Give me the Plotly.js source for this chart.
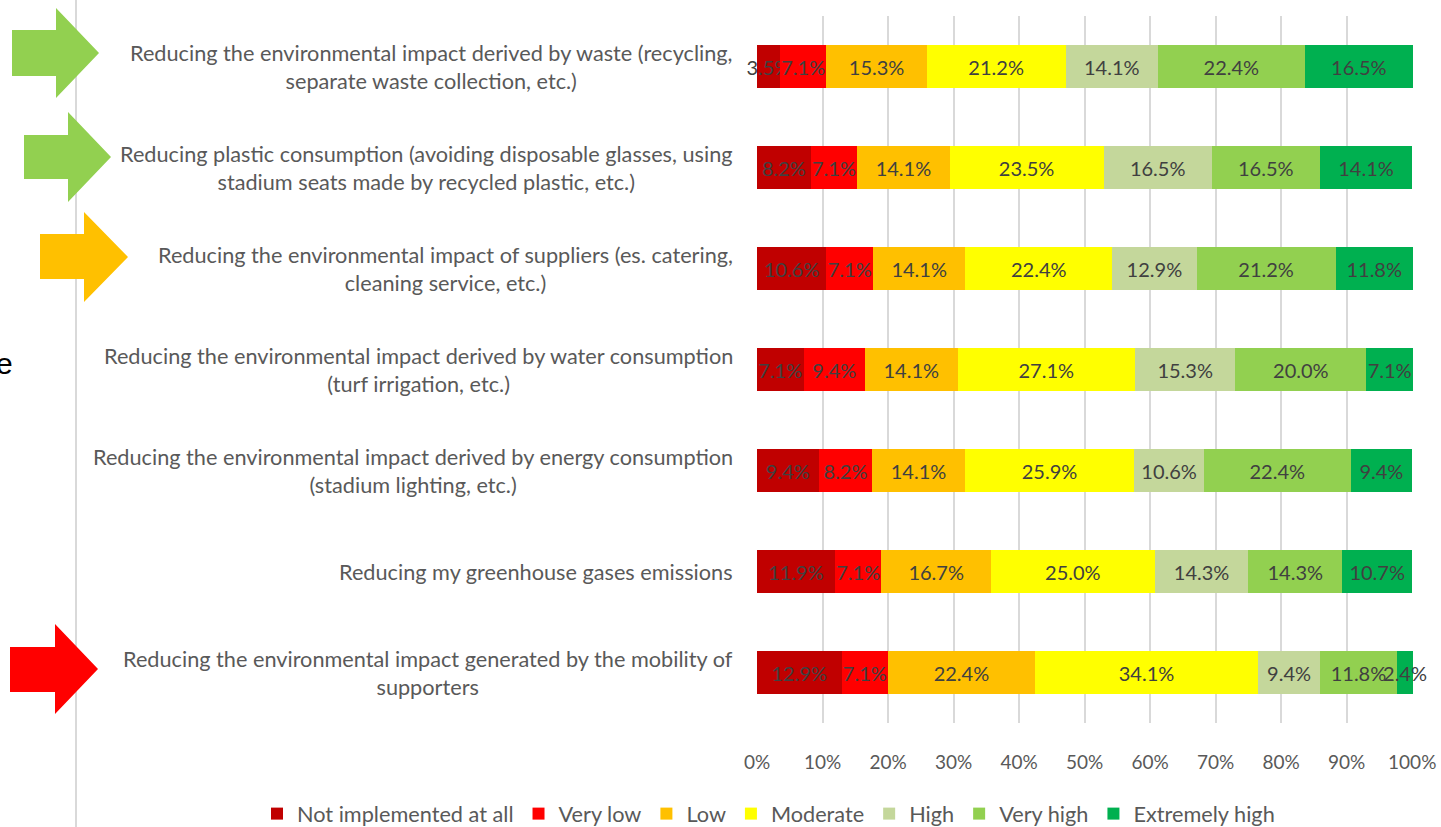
<!DOCTYPE html>
<html>
<head>
<meta charset="utf-8">
<script src="https://cdn.plot.ly/plotly-3.0.1.min.js"></script>
<style>
html,body{margin:0;padding:0;background:#fff;}
#chart{width:1441px;height:827px;}
</style>
</head>
<body>
<div id="chart"></div>
<script>
const categories = [
  "Reducing the environmental impact derived by waste (recycling, separate waste collection, etc.)",
  "Reducing plastic consumption (avoiding disposable glasses, using stadium seats made by recycled plastic, etc.)",
  "Reducing the environmental impact of suppliers (es. catering, cleaning service, etc.)",
  "Reducing the environmental impact derived by water consumption (turf irrigation, etc.)",
  "Reducing the environmental impact derived by energy consumption (stadium lighting, etc.)",
  "Reducing my greenhouse gases emissions",
  "Reducing the environmental impact generated by the mobility of supporters"
];
const categoryLabels = [
  "Reducing the environmental impact derived by waste (recycling,<br>separate waste collection, etc.)",
  "Reducing plastic consumption (avoiding disposable glasses, using<br>stadium seats made by recycled plastic, etc.)",
  "Reducing the environmental impact of suppliers (es. catering,<br>cleaning service, etc.)",
  "Reducing the environmental impact derived by water consumption<br>(turf irrigation, etc.)",
  "Reducing the environmental impact derived by energy consumption<br>(stadium lighting, etc.)",
  "Reducing my greenhouse gases emissions",
  "Reducing the environmental impact generated by the mobility of<br>supporters"
];
const seriesNames = ["Not implemented at all","Very low","Low","Moderate","High","Very high","Extremely high"];
const notImplemented = [3.5, 8.2, 10.6, 7.1, 9.4, 11.9, 12.9];
const veryLow       = [7.1, 7.1, 7.1, 9.4, 8.2, 7.1, 7.1];
const low           = [15.3, 14.1, 14.1, 14.1, 14.1, 16.7, 22.4];
const moderate      = [21.2, 23.5, 22.4, 27.1, 25.9, 25.0, 34.1];
const high          = [14.1, 16.5, 12.9, 15.3, 10.6, 14.3, 9.4];
const veryHigh      = [22.4, 16.5, 21.2, 20.0, 22.4, 14.3, 11.8];
const extremelyHigh = [16.5, 14.1, 11.8, 7.1, 9.4, 10.7, 2.4];
const xTickVals = [0,10,20,30,40,50,60,70,80,90,100];

const seriesValues = [notImplemented, veryLow, low, moderate, high, veryHigh, extremelyHigh];
const colors = ["#C00000","#FF0000","#FFC000","#FFFF00","#C4D79B","#92D050","#00B050"];

const FONT = "Lato, 'Open Sans', sans-serif";

// plot-area geometry (pixels)
const L = 757, R = 1413, T = 16, B = 723;
const fx = p => (p - L) / (R - L);
const fy = p => (B - p) / (B - T);

const traces = seriesValues.map((vals, i) => ({
  type: "bar",
  orientation: "h",
  name: seriesNames[i],
  y: categories,
  x: vals,
  marker: {color: colors[i], line: {width: 0}},
  text: vals.map(v => v.toFixed(1) + "%"),
  texttemplate: "%{text}",
  textposition: "inside",
  insidetextanchor: "middle",
  constraintext: "none",
  textangle: 0,
  cliponaxis: false,
  textfont: {family: FONT, size: 20, color: "#404040"},
  hoverinfo: "x+name"
}));

function arrow(x0, x1, x2, bodyTop, bodyBot, headTop, headBot, color) {
  const tipY = (headTop + headBot) / 2;
  const pts = [
    [x0, bodyTop],[x1, bodyTop],[x1, headTop],[x2, tipY],[x1, headBot],[x1, bodyBot],[x0, bodyBot]
  ];
  const path = "M " + pts.map(p => fx(p[0]) + "," + fy(p[1])).join(" L ") + " Z";
  return {type: "path", xref: "paper", yref: "paper", path: path,
          fillcolor: color, line: {width: 0}, layer: "above"};
}

const shapes = [
  {type: "line", xref: "paper", yref: "paper", x0: fx(76), x1: fx(76), y0: fy(830), y1: fy(-5),
   line: {color: "#D9D9D9", width: 2}},
  arrow(12, 56, 99, 30, 76, 8, 98, "#92D050"),
  arrow(24, 68, 111, 135, 179, 112, 202, "#92D050"),
  arrow(40, 84, 128, 234, 279, 212, 302, "#FFC000"),
  arrow(10, 55, 98, 647, 692, 624, 714, "#FF0000")
];

const annotations = categories.map((c, i) => ({
  xref: "paper", yref: "y", x: 0, y: c, xshift: -22,
  xanchor: "right", yanchor: "middle", align: "center",
  text: categoryLabels[i], showarrow: false,
  font: {family: FONT, size: 21.7, color: "#595959"}
}));
annotations.push({
  xref: "paper", yref: "paper", x: fx(-6), y: fy(363), xanchor: "left", yanchor: "middle",
  text: "e", showarrow: false, font: {family: "'Liberation Sans', Arial, sans-serif", size: 30, color: "#000000"}
});

const layout = {
  width: 1441, height: 827,
  margin: {l: L, r: 1441 - R, t: T, b: 827 - B, autoexpand: false},
  paper_bgcolor: "#ffffff", plot_bgcolor: "#ffffff",
  barmode: "stack",
  bargap: 0.58,
  showlegend: true,
  legend: {orientation: "h", xref: "paper", yref: "paper", x: fx(257), xanchor: "left",
           y: fy(814), yanchor: "middle", font: {family: FONT, size: 21.7, color: "#595959"},
           traceorder: "normal", itemwidth: 30},
  xaxis: {range: [0, 100.12], tickvals: xTickVals, ticktext: xTickVals.map(v => v + "%"),
          showgrid: true, gridcolor: "#D9D9D9", gridwidth: 2, zeroline: false, showline: false,
          ticks: "", ticklabelstandoff: 26,
          tickfont: {family: FONT, size: 19, color: "#595959"}, fixedrange: true},
  yaxis: {type: "category", autorange: "reversed", showticklabels: false, showgrid: false,
          zeroline: false, showline: false, ticks: "", fixedrange: true},
  shapes: shapes,
  annotations: annotations,
  font: {family: FONT}
};

Plotly.newPlot("chart", traces, layout, {displayModeBar: false, staticPlot: true});
</script>
</body>
</html>
